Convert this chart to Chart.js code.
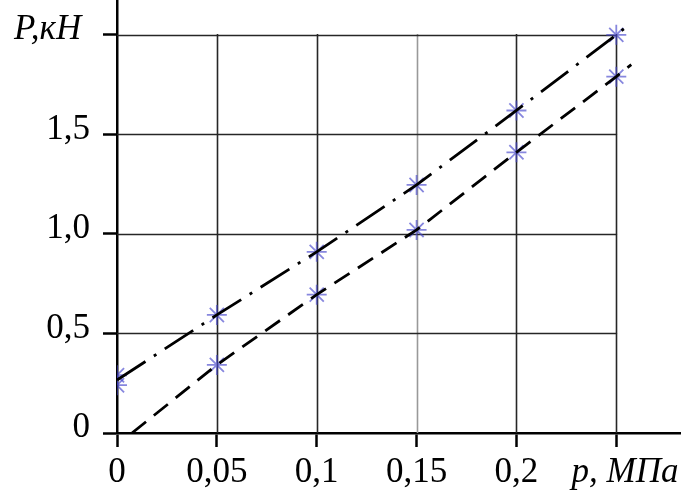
<!DOCTYPE html>
<html>
<head>
<meta charset="utf-8">
<script src="https://cdn.jsdelivr.net/npm/chart.js@4/dist/chart.umd.min.js"></script>
<style>
  html, body { margin: 0; padding: 0; background: #fff; overflow: hidden; }
  #wrap { width: 692px; height: 505px; margin-top: -12px; }
</style>
</head>
<body>
<div id="wrap"><canvas id="myChart"></canvas></div>
<script>
// measured points, p (MPa) -> P (kN)
const pValues = [0, 0.05, 0.1, 0.15, 0.2, 0.25];
const upperP = [0.29, 0.593, 0.91, 1.246, 1.62, 2.0];
const lowerP = [0.24, 0.342, 0.695, 1.02, 1.41, 1.79];

// the two drawn lines (through the points, running a bit past the last one)
const upperLineX = [0, 0.05, 0.1, 0.15, 0.2, 0.25, 0.2575];
const upperLineY = [0.266, 0.593, 0.91, 1.246, 1.62, 2.0, 2.06];
const lowerLineX = [0.0075, 0.05, 0.1, 0.15, 0.2, 0.25, 0.2575];
const lowerLineY = [0, 0.342, 0.695, 1.02, 1.41, 1.79, 1.85];

const xTicks = [0, 0.05, 0.1, 0.15, 0.2, 0.25];
const xLabels = ["0", "0,05", "0,1", "0,15", "0,2", "  p, МПа"];
const yTicks = [0, 0.5, 1, 1.5, 2];
const yLabels = ["0", "0,5", "1,0", "1,5", "P,кН "];

const toPoints = (xs, ys) => xs.map((x, i) => ({ x: x, y: ys[i] }));

const markerStyle = {
  showLine: false,
  pointStyle: "star",
  pointRadius: 10,
  pointBorderWidth: 1.8,
  pointBorderColor: "rgba(70, 70, 205, 0.65)",
  pointBackgroundColor: "rgba(70, 70, 205, 0.65)",
};

// grid only inside the 0..0.25 x 0..2 box
const boxGrid = {
  id: "boxGrid",
  beforeDatasetsDraw(chart) {
    const { ctx, scales: { x, y } } = chart;
    const x0 = x.getPixelForValue(0), x1 = x.getPixelForValue(0.25);
    const y0 = y.getPixelForValue(0), y1 = y.getPixelForValue(2);
    ctx.save();
    ctx.lineWidth = 1.6;
    xTicks.slice(1).forEach((v) => {
      const px = Math.round(x.getPixelForValue(v)) + 0.5;
      ctx.strokeStyle = v === 0.15 ? "#999" : "#262626";
      ctx.beginPath();
      ctx.moveTo(px, y0);
      ctx.lineTo(px, y1 - 0.8);
      ctx.stroke();
    });
    yTicks.slice(1).forEach((v) => {
      const py = Math.round(y.getPixelForValue(v)) + 0.5;
      ctx.strokeStyle = "#262626";
      ctx.beginPath();
      ctx.moveTo(x0, py);
      ctx.lineTo(x1 + 0.8, py);
      ctx.stroke();
    });
    ctx.restore();
  },
};

const tickFont = (last) => (c) =>
  c.index === last
    ? { family: "Liberation Serif", size: 35, style: "italic" }
    : { family: "Liberation Serif", size: 35 };

new Chart(document.getElementById("myChart"), {
  type: "scatter",
  data: {
    datasets: [
      {
        data: toPoints(upperLineX, upperLineY),
        showLine: true,
        borderColor: "#000",
        borderWidth: 2.8,
        borderDash: [34, 10, 3, 10],
        pointRadius: 0,
      },
      {
        data: toPoints(lowerLineX, lowerLineY),
        showLine: true,
        borderColor: "#000",
        borderWidth: 2.8,
        borderDash: [18, 10],
        pointRadius: 0,
      },
      Object.assign({ data: toPoints(pValues, upperP) }, markerStyle),
      Object.assign({ data: toPoints(pValues, lowerP) }, markerStyle),
    ],
  },
  options: {
    responsive: true,
    maintainAspectRatio: false,
    animation: false,
    layout: { padding: 0 },
    plugins: { legend: { display: false }, tooltip: { enabled: false } },
    scales: {
      x: {
        type: "linear",
        min: 0,
        max: 0.282,
        afterBuildTicks: (s) => { s.ticks = xTicks.map((v) => ({ value: v })); },
        afterFit: (s) => { s.height = 60; s.paddingLeft = 0; s.paddingRight = 0; },
        border: { color: "#000", width: 2.5 },
        grid: { drawOnChartArea: false, drawTicks: true, tickLength: 14, tickColor: "#000", tickWidth: 2.5 },
        ticks: {
          color: "#000",
          padding: 5,
          maxRotation: 0,
          autoSkip: false,
          font: tickFont(xTicks.length - 1),
          callback: (v, i) => xLabels[i],
        },
      },
      y: {
        type: "linear",
        min: 0,
        max: 2.176,
        afterBuildTicks: (s) => { s.ticks = yTicks.map((v) => ({ value: v })); },
        afterFit: (s) => { s.width = 117; s.paddingTop = 0; s.paddingBottom = 0; },
        border: { color: "#000", width: 2.5 },
        grid: { drawOnChartArea: false, drawTicks: true, tickLength: 14, tickColor: "#000", tickWidth: 2.5 },
        ticks: {
          color: "#000",
          padding: 13,
          labelOffset: -5,
          autoSkip: false,
          font: tickFont(yTicks.length - 1),
          callback: (v, i) => yLabels[i],
        },
      },
    },
  },
  plugins: [boxGrid],
});
</script>
</body>
</html>
